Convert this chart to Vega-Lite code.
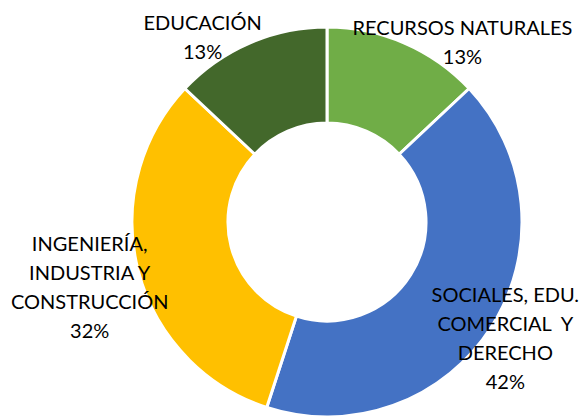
{
  "$schema": "https://vega.github.io/schema/vega-lite/v6.json",
  "width": 522,
  "height": 392,
  "autosize": "none",
  "padding": {"left": 66, "top": 26, "right": 0, "bottom": 0},
  "background": "white",
  "data": {"values": [
    {"name": "RECURSOS NATURALES", "value": 13, "order": 1},
    {"name": "SOCIALES, EDU.|COMERCIAL\u00a0 Y|DERECHO", "value": 42, "order": 2},
    {"name": "INGENIERÍA,|INDUSTRIA Y|CONSTRUCCIÓN", "value": 32, "order": 3},
    {"name": "EDUCACIÓN", "value": 13, "order": 4}
  ]},
  "transform": [
    {"stack": "value", "groupby": [], "sort": [{"field": "order"}], "as": ["v0", "v1"]},
    {"calculate": "(datum.v0 + datum.v1) / 2", "as": "mid"},
    {"calculate": "datum.name + '|' + datum.value + '%'", "as": "label"}
  ],
  "layer": [
    {
      "mark": {"type": "arc", "innerRadius": 99, "outerRadius": 195, "stroke": "white", "strokeWidth": 3},
      "encoding": {
        "theta": {"field": "v0", "type": "quantitative", "scale": {"domain": [0, 100]}},
        "theta2": {"field": "v1"},
        "color": {
          "field": "order", "type": "nominal", "legend": null,
          "scale": {
            "domain": [1, 2, 3, 4],
            "range": ["#70AD47", "#4472C4", "#FFC000", "#43682B"]
          }
        }
      }
    },
    {
      "transform": [{"filter": "datum.order == 1"}],
      "mark": {"type": "text", "radius": 195, "dx": 58, "dy": -14, "lineBreak": "|", "font": "Lato", "fontSize": 20, "lineHeight": 29, "align": "center", "baseline": "middle", "color": "black"},
      "encoding": {"theta": {"field": "mid", "type": "quantitative", "scale": {"domain": [0, 100]}}, "text": {"field": "label"}}
    },
    {
      "transform": [{"filter": "datum.order == 2"}],
      "mark": {"type": "text", "radius": 210, "dx": 1, "dy": -39, "lineBreak": "|", "font": "Lato", "fontSize": 20, "lineHeight": 29, "align": "center", "baseline": "middle", "color": "black"},
      "encoding": {"theta": {"field": "mid", "type": "quantitative", "scale": {"domain": [0, 100]}}, "text": {"field": "label"}}
    },
    {
      "transform": [{"filter": "datum.order == 3"}],
      "mark": {"type": "text", "radius": 245, "dx": 0, "dy": -38, "lineBreak": "|", "font": "Lato", "fontSize": 20, "lineHeight": 29, "align": "center", "baseline": "middle", "color": "black"},
      "encoding": {"theta": {"field": "mid", "type": "quantitative", "scale": {"domain": [0, 100]}}, "text": {"field": "label"}}
    },
    {
      "transform": [{"filter": "datum.order == 4"}],
      "mark": {"type": "text", "radius": 200, "dx": -45, "dy": -14, "lineBreak": "|", "font": "Lato", "fontSize": 20, "lineHeight": 29, "align": "center", "baseline": "middle", "color": "black"},
      "encoding": {"theta": {"field": "mid", "type": "quantitative", "scale": {"domain": [0, 100]}}, "text": {"field": "label"}}
    }
  ],
  "config": {"view": {"stroke": null}}
}
